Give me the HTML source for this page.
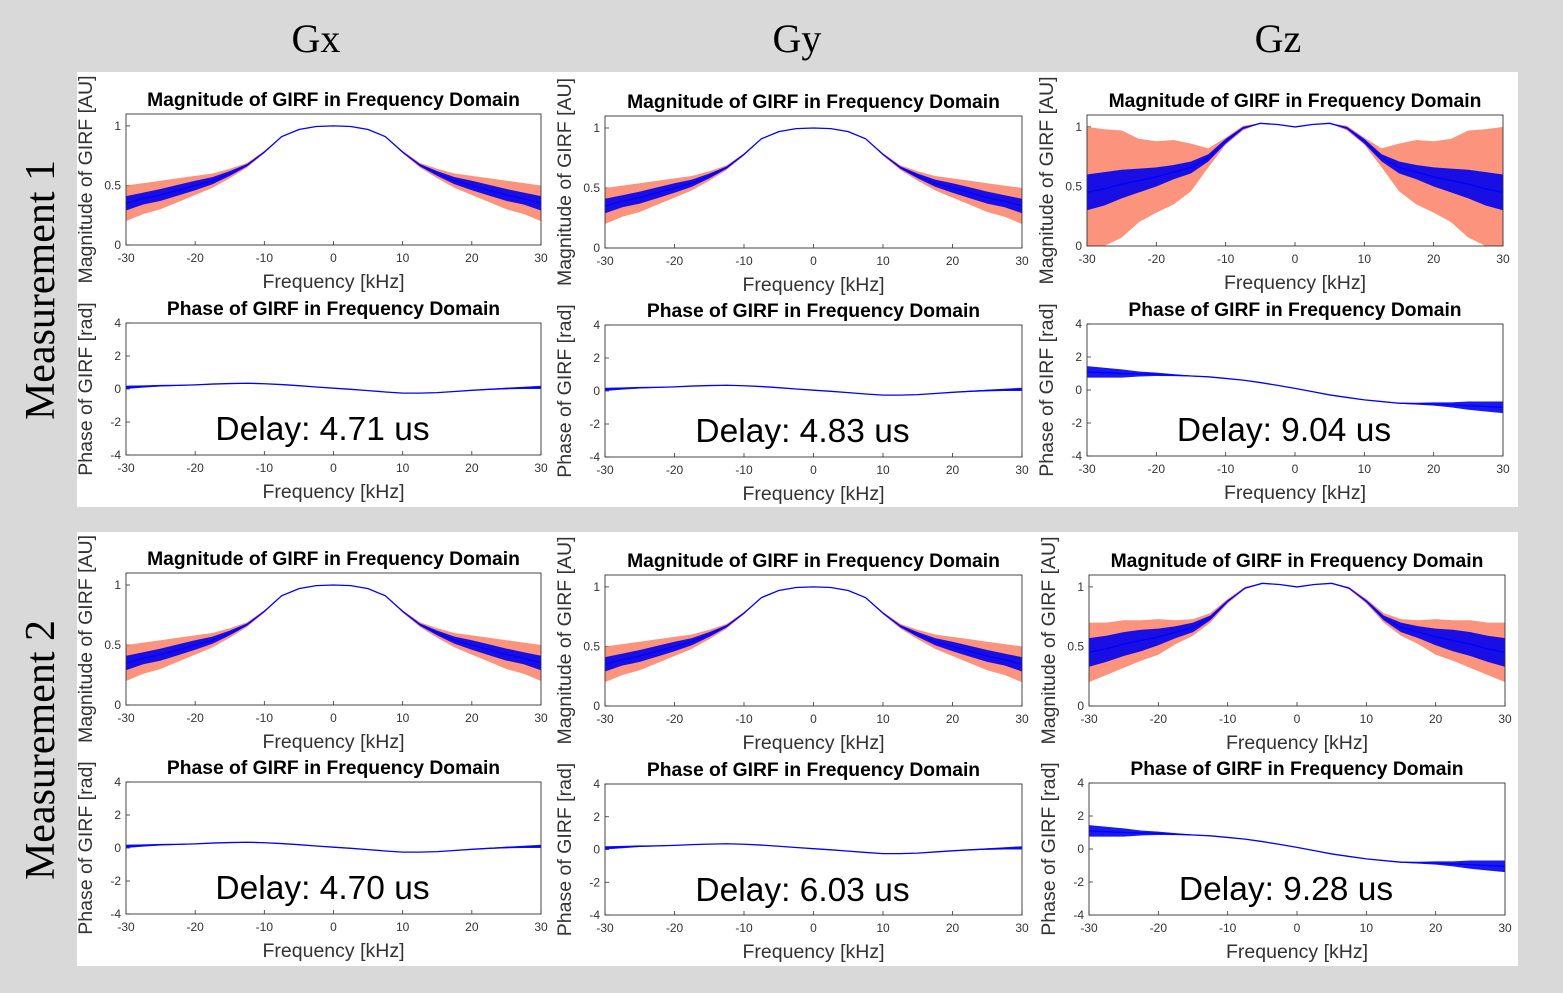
<!DOCTYPE html>
<html><head><meta charset="utf-8">
<style>
html,body{margin:0;padding:0;background:#d9d9d9;}
body{width:1563px;height:993px;position:relative;overflow:hidden;font-family:"Liberation Sans",sans-serif;}
svg{position:absolute;left:0;top:0;}
</style></head>
<body>
<svg id="fig" width="1563" height="993" xmlns="http://www.w3.org/2000/svg">
  <rect x="77" y="72" width="1441" height="435" fill="#fff"/>
  <rect x="77" y="532" width="1441" height="434" fill="#fff"/>
  <text x="316" y="52" font-family="Liberation Serif,serif" font-size="40" text-anchor="middle">Gx</text>
  <text x="797" y="52" font-family="Liberation Serif,serif" font-size="40" text-anchor="middle">Gy</text>
  <text x="1278" y="52" font-family="Liberation Serif,serif" font-size="40" text-anchor="middle">Gz</text>
  <text transform="translate(54,290) rotate(-90)" font-family="Liberation Serif,serif" font-size="42" text-anchor="middle">Measurement 1</text>
  <text transform="translate(54,750) rotate(-90)" font-family="Liberation Serif,serif" font-size="42" text-anchor="middle">Measurement 2</text>
  <g id="plots"></g>
</svg>
<script>
// ---- data ----
const freqs = [-30,-27.5,-25,-22.5,-20,-17.5,-15,-12.5,-10,-7.5,-5,-2.5,0,2.5,5,7.5,10,12.5,15,17.5,20,22.5,25,27.5,30];
const magXY = [0.35,0.39,0.42,0.46,0.50,0.54,0.60,0.67,0.78,0.91,0.97,0.995,1.0,0.995,0.97,0.91,0.78,0.67,0.60,0.54,0.50,0.46,0.42,0.39,0.35];
const redXY = [0.15,0.13,0.12,0.10,0.08,0.06,0.04,0.02,0.01,0,0,0,0,0,0,0,0.01,0.02,0.04,0.06,0.08,0.10,0.12,0.13,0.15];
const blueXY = [0.06,0.05,0.05,0.045,0.04,0.03,0.02,0.01,0.005,0,0,0,0,0,0,0,0.005,0.01,0.02,0.03,0.04,0.045,0.05,0.05,0.06];
const magZ = [0.45,0.48,0.52,0.55,0.58,0.62,0.66,0.74,0.88,0.99,1.03,1.02,1.0,1.02,1.03,0.99,0.88,0.74,0.66,0.62,0.58,0.55,0.52,0.48,0.45];
const redZ1 = [0.55,0.5,0.45,0.35,0.3,0.27,0.2,0.08,0.03,0.02,0,0,0,0,0,0.02,0.03,0.08,0.2,0.27,0.3,0.35,0.45,0.5,0.55];
const blueZ1 = [0.15,0.14,0.12,0.1,0.08,0.06,0.05,0.03,0.02,0.01,0,0,0,0,0,0.01,0.02,0.03,0.05,0.06,0.08,0.1,0.12,0.14,0.15];
const redZ2 = [0.25,0.22,0.2,0.17,0.15,0.1,0.07,0.04,0.02,0.01,0,0,0,0,0,0.01,0.02,0.04,0.07,0.1,0.15,0.17,0.2,0.22,0.25];
const blueZ2 = [0.12,0.11,0.1,0.09,0.07,0.05,0.04,0.02,0.01,0,0,0,0,0,0,0,0.01,0.02,0.04,0.05,0.07,0.09,0.1,0.11,0.12];
const phaseXY = [0.1,0.15,0.2,0.22,0.25,0.3,0.33,0.35,0.32,0.27,0.2,0.12,0.05,-0.02,-0.1,-0.18,-0.25,-0.25,-0.22,-0.15,-0.08,-0.02,0.03,0.07,0.1];
const phaseZ = [1.1,1.05,1.0,0.97,0.95,0.9,0.85,0.8,0.7,0.6,0.45,0.28,0.1,-0.1,-0.3,-0.45,-0.6,-0.7,-0.8,-0.83,-0.85,-0.9,-0.95,-1.0,-1.05];
const phNoiseXY = [0.1,0.07,0.05,0.03,0.02,0.01,0.005,0,0,0,0,0,0,0,0,0,0,0,0.005,0.01,0.02,0.03,0.05,0.07,0.1];
const phNoiseZ = [0.35,0.3,0.25,0.15,0.1,0.06,0.03,0.01,0,0,0,0,0,0,0,0,0,0.01,0.03,0.06,0.1,0.15,0.25,0.3,0.35];
const xTicks = [-30,-20,-10,0,10,20,30];
const magTicks = [0,0.5,1];
const phTicks = [-4,-2,0,2,4];
const delays = [["4.71","4.83","9.04"],["4.70","6.03","9.28"]];

const NS="http://www.w3.org/2000/svg";
const root=document.getElementById('plots');
function el(tag,attrs,parent){const e=document.createElementNS(NS,tag);for(const k in attrs)e.setAttribute(k,attrs[k]);(parent||root).appendChild(e);return e;}

function axes(x0,x1,y0,y1,ymin,ymax,yticks,title,ylabel,name){
  const g=el('g',{});
  
  
  const sx=f=>x0+(f+30)/60*(x1-x0);
  const sy=v=>y1-(v-ymin)/(ymax-ymin)*(y1-y0);
  const t=el('text',{x:(x0+x1)/2,y:y0-8,'font-size':19.3,'font-weight':'bold','text-anchor':'middle'},g);t.textContent=title;
  
  
  const xl=el('text',{x:(x0+x1)/2,y:y1+43,'font-size':19.5,fill:'#333','text-anchor':'middle'},g);xl.textContent='Frequency [kHz]';
  
  
  const yl=el('text',{transform:`translate(${x0-34},${(y0+y1)/2}) rotate(-90)`,'font-size':19.5,fill:'#333','text-anchor':'middle'},g);yl.textContent=ylabel;
  
  
  xTicks.forEach(f=>{const tt=el('text',{x:sx(f),y:y1+17,'font-size':12,fill:'#333','text-anchor':'middle'},g);tt.textContent=f;
    
    
    el('line',{x1:sx(f),x2:sx(f),y1:y1,y2:y1-4,stroke:'#333','stroke-width':0.8},g);});
  yticks.forEach(v=>{const tt=el('text',{x:x0-5,y:sy(v)+4,'font-size':12,fill:'#333','text-anchor':'end'},g);tt.textContent=v;
    
    
    el('line',{x1:x0,x2:x0+4,y1:sy(v),y2:sy(v),stroke:'#333','stroke-width':0.8},g);});
  return {g,sx,sy,x0,x1,y0,y1};
}
function band(a,mean,w,color,op,name){
  const clip=v=>Math.max(a.y0,Math.min(a.y1,v));
  let up=freqs.map((f,i)=>`${a.sx(f)},${clip(a.sy(mean[i]+w[i]))}`);
  let lo=freqs.map((f,i)=>`${a.sx(f)},${clip(a.sy(mean[i]-w[i]))}`).reverse();
  const p=el('polygon',{points:up.concat(lo).join(' '),fill:color,'fill-opacity':op},a.g);
  
  
}
function line(a,mean,name){
  const p=el('polyline',{points:freqs.map((f,i)=>`${a.sx(f)},${a.sy(mean[i])}`).join(' '),fill:'none',stroke:'#0000ff','stroke-width':1.3},a.g);
  
  
}
function box(a){const r=el('rect',{x:a.x0,y:a.y0,width:a.x1-a.x0,height:a.y1-a.y0,fill:'none',stroke:'#333','stroke-width':0.9},a.g);
  
  }

const cols=[
 [[126,541,114,245,323,455],[605,1022,116,248,325,457],[1087,1503,115,246,324,456]],
 [[126,541,573,705,782,914],[605,1022,575,706,784,915],[1089,1505,575,706,783,915]]
];
const names=['gx','gy','gz'];
for(let r=0;r<2;r++)for(let c=0;c<3;c++){
  const [x0,x1,m0,m1,p0,p1]=cols[r][c];
  const isZ=c===2;
  const m=axes(x0,x1,m0,m1,0,1.1,magTicks,'Magnitude of GIRF in Frequency Domain','Magnitude of GIRF [AU]',`magnitude-plot-m${r+1}-${names[c]}`);
  const mean=isZ?magZ:magXY;
  band(m,mean,isZ?(r?redZ2:redZ1):redXY,'#fa8066',0.85,'magnitude-spread-band');
  band(m,mean,isZ?(r?blueZ2:blueZ1):blueXY,'#0000ee',0.9,'magnitude-noise-band');
  line(m,mean,'magnitude-line');
  box(m);
  const p=axes(x0,x1,p0,p1,-4,4,phTicks,'Phase of GIRF in Frequency Domain','Phase of GIRF [rad]',`phase-plot-m${r+1}-${names[c]}`);
  const pm=isZ?phaseZ:phaseXY;
  band(p,pm,isZ?phNoiseZ:phNoiseXY,'#0000ee',0.9,'phase-noise-band');
  line(p,pm,'phase-line');
  box(p);
  const d=el('text',{x:(x0+x1)/2-11,y:p0+117,'font-size':33.5,'text-anchor':'middle',fill:'#000'},p.g);
  d.textContent='Delay: '+delays[r][c]+' us';
  
  
}
</script>
</body></html>
